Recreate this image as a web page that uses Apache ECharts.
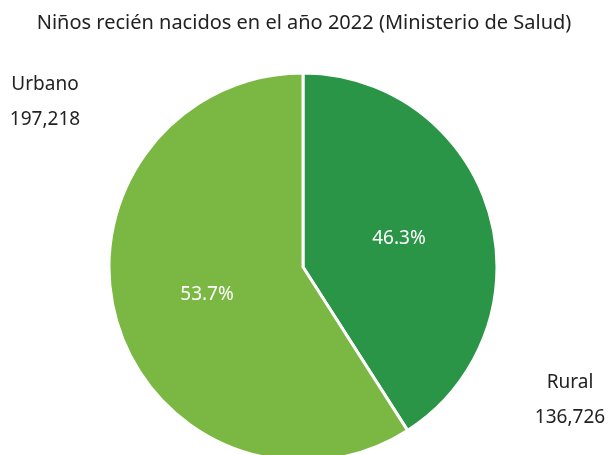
<!DOCTYPE html>
<html><head><meta charset="utf-8">
<script src="https://cdn.jsdelivr.net/npm/echarts@6/dist/echarts.min.js"></script>
<style>html,body{margin:0;padding:0;background:#fff}#c{width:608px;height:455px}</style>
</head><body><div id="c"></div>
<script>
const title = 'Niños recién nacidos en el año 2022 (Ministerio de Salud)';
const categories = ['Rural', 'Urbano'];
const values = [136726, 197218];
const pctLabels = ['46.3%', '53.7%'];
const colors = ['#2a9447', '#7ab743'];
const FONT = 'Noto Sans';

const chart = echarts.init(document.getElementById('c'));
const data = categories.map((c, i) => ({ name: c, value: values[i], itemStyle: { color: colors[i] } }));
const outerPos = [[570, 383], [45, 85]];
const graphics = [];
categories.forEach((c, i) => {
  graphics.push({ type: 'text', x: outerPos[i][0], y: outerPos[i][1],
    style: { text: c, fontFamily: FONT, fontSize: 19, fill: '#222', align: 'center', verticalAlign: 'middle' } });
  graphics.push({ type: 'text', x: outerPos[i][0], y: outerPos[i][1] + 35,
    style: { text: values[i].toLocaleString('en-US'), fontFamily: FONT, fontSize: 19, fill: '#222', align: 'center', verticalAlign: 'middle' } });
});
chart.setOption({
  animation: false,
  title: { text: title, left: 'center', top: 8, textStyle: { fontFamily: FONT, fontWeight: 'normal', fontSize: 20, color: '#222' } },
  graphic: graphics,
  series: [
    {
      type: 'pie', center: [303, 267], radius: [0, 194], startAngle: 90, clockwise: true,
      data: data,
      itemStyle: { borderColor: '#fff', borderWidth: 3 },
      label: { show: true, position: 'inside', fontFamily: FONT, fontSize: 19, color: '#fff',
        formatter: p => pctLabels[p.dataIndex] },
      labelLine: { show: false }, silent: true
    }
  ]
});
</script></body></html>
